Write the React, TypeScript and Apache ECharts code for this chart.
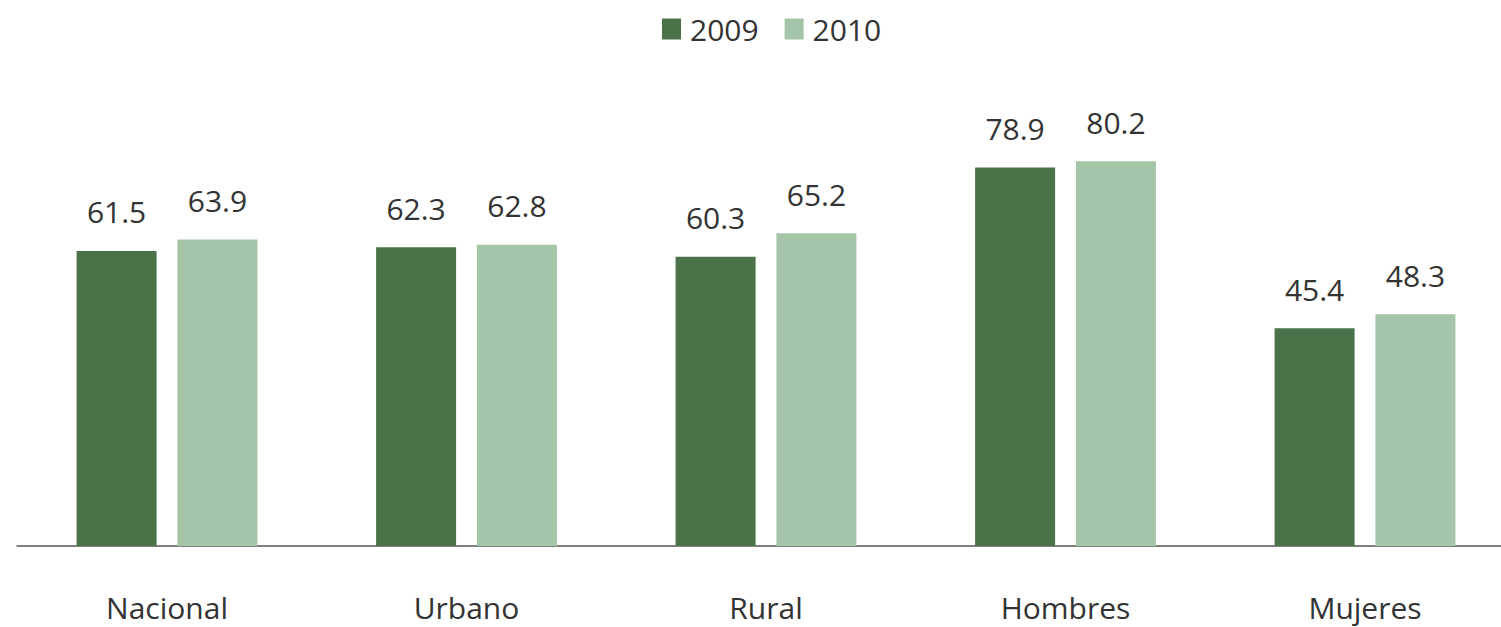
import React, { useEffect, useRef } from "react";
import * as echarts from "echarts";

const categories = ["Nacional", "Urbano", "Rural", "Hombres", "Mujeres"];
const values2009 = [61.5, 62.3, 60.3, 78.9, 45.4];
const values2010 = [63.9, 62.8, 65.2, 80.2, 48.3];

const FONT = "Open Sans";

export default function App() {
  const ref = useRef<HTMLDivElement>(null);
  useEffect(() => {
    if (!ref.current) return;
    const chart = echarts.init(ref.current, undefined, { renderer: "svg" });
    const label = {
      show: true,
      position: "top" as const,
      distance: 24,
      fontFamily: FONT,
      fontSize: 30,
      color: "#333333",
      formatter: (p: any) => p.value.toFixed(1),
    };
    chart.setOption({
      animation: false,
      backgroundColor: "#ffffff",
      legend: {
        top: 9,
        left: 657,
        icon: "rect",
        itemWidth: 19,
        itemHeight: 21,
        itemGap: 26,
        textStyle: { fontFamily: FONT, fontSize: 30, color: "#333333", padding: [0, 0, 0, 4] },
        data: ["2009", "2010"],
      },
      grid: { left: 17.25, width: 1497.5, top: 66.3, height: 479.7 },
      xAxis: {
        type: "category",
        data: categories,
        axisLine: { lineStyle: { color: "#808080", width: 2 } },
        axisTick: { show: false },
        axisLabel: { fontFamily: FONT, fontSize: 30, color: "#333333", margin: 46 },
      },
      yAxis: {
        type: "value",
        min: 0,
        max: 100,
        show: false,
        splitLine: { show: false },
      },
      series: [
        {
          name: "2009",
          type: "bar",
          data: values2009,
          barWidth: 80,
          barGap: "26%",
          itemStyle: { color: "#4a7349" },
          label,
        },
        {
          name: "2010",
          type: "bar",
          data: values2010,
          barWidth: 80,
          itemStyle: { color: "#a4c5a7" },
          label,
        },
      ],
    });
    return () => chart.dispose();
  }, []);
  return (
    <div
      style={{
        position: "absolute",
        left: 0,
        top: 0,
        width: 1501,
        height: 627,
        overflow: "hidden",
        background: "#ffffff",
      }}
    >
      <div ref={ref} style={{ width: 1530, height: 627 }} />
    </div>
  );
}
